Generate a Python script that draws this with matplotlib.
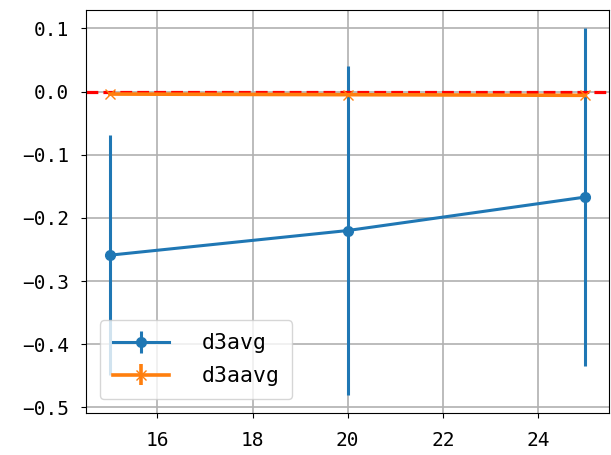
import matplotlib
matplotlib.use('Agg')
import matplotlib.pyplot as plt

plt.rcParams['font.family'] = ['DejaVu Sans Mono', 'DejaVu Sans']
plt.rcParams['font.size'] = 14
plt.rcParams['axes.unicode_minus'] = True

x = [15, 20, 25]
d3avg = [-0.259, -0.220, -0.167]
d3avg_err = [0.190, 0.260, 0.267]
d3aavg = [-0.004, -0.005, -0.006]
d3aavg_err = [0.002, 0.003, 0.003]

fig = plt.figure(figsize=(6.11, 4.55), dpi=100)
ax = fig.add_axes([0.141, 0.092, 0.856, 0.886])

ax.errorbar(x, d3avg, yerr=d3avg_err, marker='o', markersize=7,
            linewidth=2.2, label='d3avg')
ax.errorbar(x, d3aavg, yerr=d3aavg_err, marker='x', markersize=7,
            linewidth=2.6, label='d3aavg')
ax.axhline(0, color='red', linestyle='--', linewidth=2.3)

ax.grid(True, linewidth=1.2)
ax.set_xticks([16, 18, 20, 22, 24])
ax.tick_params(axis='x', pad=9.5)
ax.tick_params(axis='y', pad=9)
ax.legend(loc='lower left', fontsize=15.5, handlelength=2.6,
          handletextpad=1.5, borderpad=0.6, labelspacing=0.6,
          borderaxespad=0.65)

plt.savefig('out.png', dpi=100)
